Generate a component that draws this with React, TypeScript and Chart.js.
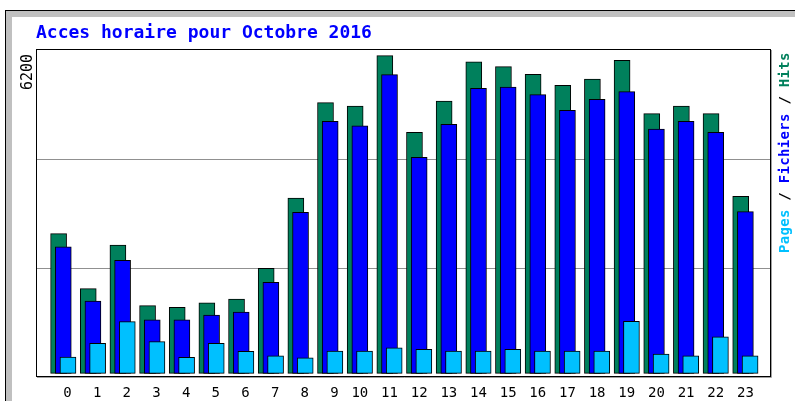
import { useEffect, useRef } from 'react';
import { Chart, registerables } from 'chart.js';

Chart.register(...registerables);

const titleText = 'Acces horaire pour Octobre 2016';
const hourLabels = ['0','1','2','3','4','5','6','7','8','9','10','11','12','13','14','15','16','17','18','19','20','21','22','23'];
const hits = [2726,1687,2513,1366,1336,1422,1492,2072,3400,5201,5138,6089,4642,5233,5975,5881,5737,5529,5648,6002,4993,5138,4993,3433];
const files = [2480,1455,2223,1101,1101,1190,1247,1808,3130,4849,4766,5730,4169,4793,5473,5497,5352,5057,5265,5409,4704,4849,4642,3142];
const pages = [397,656,1064,686,391,656,504,421,383,510,510,572,542,510,510,542,510,510,510,1071,453,421,780,421];
const yTopLabel = '6200';
const yGridValues = [2066.67, 4133.33];
const legendParts: [string, string][] = [
  ['Pages', '#00C0FF'],
  [' / ', '#000000'],
  ['Fichiers', '#0000FF'],
  [' / ', '#000000'],
  ['Hits', '#00805C'],
];

const OFF = 0.158;

const framePlugin = {
  id: 'framePlugin',
  beforeDraw(chart: any) {
    const ctx = chart.ctx;
    const W = chart.width, H = chart.height;
    ctx.save();
    ctx.fillStyle = '#FFFFFF';
    ctx.fillRect(0, 0, W, H);
    ctx.fillStyle = '#C0C0C0';
    ctx.fillRect(5, 10, W - 5, 7);
    ctx.fillRect(5, 10, 7, H - 10);
    ctx.fillStyle = '#000000';
    ctx.fillRect(5, 10, W - 5, 1);
    ctx.fillRect(5, 10, 1, H - 10);
    ctx.restore();
  },
  afterDatasetsDraw(chart: any) {
    const ctx = chart.ctx;
    const a = chart.chartArea;
    ctx.save();
    ctx.strokeStyle = '#A0A0A0';
    ctx.lineWidth = 1;
    ctx.beginPath();
    ctx.moveTo(a.left + 1, a.bottom + 1.5);
    ctx.lineTo(a.right + 1.5, a.bottom + 1.5);
    ctx.lineTo(a.right + 1.5, a.top + 1);
    ctx.stroke();
    ctx.strokeStyle = '#000000';
    ctx.strokeRect(Math.round(a.left) + 0.5, Math.round(a.top) + 0.5, Math.round(a.right - a.left), Math.round(a.bottom - a.top));
    ctx.restore();
  },
  afterDraw(chart: any) {
    const ctx = chart.ctx;
    ctx.save();
    ctx.translate(28.5, 90);
    ctx.rotate(-Math.PI / 2);
    ctx.font = '15px "DejaVu Sans Mono"';
    ctx.fillStyle = '#000000';
    ctx.textAlign = 'left';
    ctx.textBaseline = 'middle';
    ctx.fillText(yTopLabel, 0, 0);
    ctx.restore();

    ctx.save();
    ctx.translate(785, 253);
    ctx.rotate(-Math.PI / 2);
    ctx.font = 'bold 14px "DejaVu Sans Mono"';
    (ctx as any).letterSpacing = '0.3px';
    ctx.textAlign = 'left';
    ctx.textBaseline = 'middle';
    let x = 0;
    for (const [t, c] of legendParts) {
      ctx.fillStyle = c;
      ctx.fillText(t, x, 0);
      x += ctx.measureText(t).width;
    }
    ctx.restore();
  },
};

export default function App() {
  const ref = useRef<HTMLCanvasElement>(null);
  useEffect(() => {
    if (!ref.current) return;
    const mk = (arr: number[], off: number) => arr.map((v, i) => ({ x: i + off, y: v }));
    const common = {
      barThickness: 16,
      borderColor: '#000000',
      borderWidth: 1,
      borderSkipped: false as any,
      base: 89,
      grouped: false,
    };
    const chart = new Chart(ref.current, {
      type: 'bar',
      data: {
        datasets: [
          { label: 'Hits', data: mk(hits, -OFF), backgroundColor: '#00805C', order: 3, ...common },
          { label: 'Fichiers', data: mk(files, 0), backgroundColor: '#0000FF', order: 2, ...common },
          { label: 'Pages', data: mk(pages, OFF), backgroundColor: '#00C0FF', order: 1, ...common },
        ] as any,
      },
      options: {
        animation: false,
        responsive: false,
        events: [],
        layout: { padding: { left: 36, right: 25, top: 24, bottom: 10 } },
        plugins: {
          legend: { display: false },
          tooltip: { enabled: false },
          title: {
            display: true,
            text: titleText,
            align: 'start',
            color: '#0000FF',
            font: { family: '"DejaVu Sans Mono"', size: 18, weight: 'bold', lineHeight: 1 },
            padding: { top: 0, bottom: 7 },
          },
        },
        scales: {
          x: {
            type: 'linear',
            offset: false,
            min: -0.92,
            max: 23.83,
            grid: { display: false, drawTicks: false },
            border: { display: false },
            afterBuildTicks: (scale: any) => {
              scale.ticks = hourLabels.map((_, i) => ({ value: i }));
            },
            ticks: {
              autoSkip: false,
              maxRotation: 0,
              minRotation: 0,
              padding: 10,
              color: '#000000',
              font: { family: '"DejaVu Sans Mono"', size: 14, lineHeight: 1 },
              callback: (v: any) => {
                const s = hourLabels[Math.round(Number(v))] ?? '';
                return s.length < 2 ? ' ' + s : s;
              },
            },
          },
          y: {
            min: 38,
            max: 6215,
            grid: { color: '#909090', lineWidth: 1, drawTicks: false },
            border: { display: false },
            afterBuildTicks: (scale: any) => {
              scale.ticks = yGridValues.map((v) => ({ value: v }));
            },
            ticks: { display: false },
          },
        },
      } as any,
      plugins: [framePlugin],
    });
    return () => chart.destroy();
  }, []);
  return (
    <div style={{ position: 'fixed', left: 0, top: 0, width: 795, height: 420, background: '#fff' }}>
      <canvas ref={ref} width={795} height={420} style={{ display: 'block' }} />
    </div>
  );
}
